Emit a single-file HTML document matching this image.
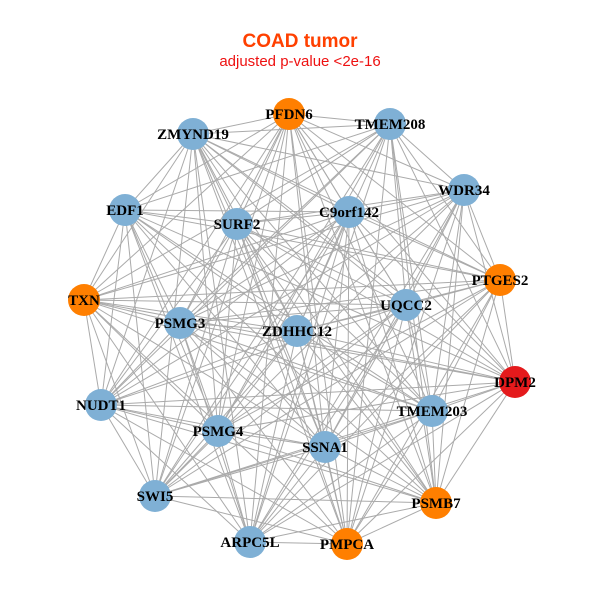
<!DOCTYPE html>
<html><head><meta charset="utf-8"><style>
html,body{margin:0;padding:0;background:#fff;}
svg{display:block;}
</style></head><body>
<svg id="g" width="600" height="600" xmlns="http://www.w3.org/2000/svg">
<rect width="600" height="600" fill="#fff"/>
<text x="300" y="47" text-anchor="middle" font-family="Liberation Sans, sans-serif" font-weight="bold" font-size="19" fill="#ff4000">COAD tumor</text>
<text x="300" y="66" text-anchor="middle" font-family="Liberation Sans, sans-serif" font-size="15" fill="#ee1111">adjusted p-value &lt;2e-16</text>
<g id="edges" stroke="#aaaaaa" stroke-width="1"></g>
<g id="nodes"></g>
</svg>
<script>
var N=[
["PFDN6",289,114,"#ff7f00"],["TMEM208",390,124,"#7fb0d5"],["ZMYND19",193,134,"#7fb0d5"],
["WDR34",464,190,"#7fb0d5"],["EDF1",125,210,"#7fb0d5"],["C9orf142",349,212,"#7fb0d5"],
["SURF2",237,224,"#7fb0d5"],["PTGES2",500,280,"#ff7f00"],["TXN",84,300,"#ff7f00"],
["UQCC2",406,305,"#7fb0d5"],["PSMG3",180,323,"#7fb0d5"],["ZDHHC12",297,331,"#7fb0d5"],
["DPM2",515,382,"#e41a1c"],["NUDT1",101,405,"#7fb0d5"],["TMEM203",432,411,"#7fb0d5"],
["PSMG4",218,431,"#7fb0d5"],["SSNA1",325,447,"#7fb0d5"],["SWI5",155,496,"#7fb0d5"],
["PSMB7",436,503,"#ff7f00"],["ARPC5L",250,542,"#7fb0d5"],["PMPCA",347,544,"#ff7f00"]];
var ns="http://www.w3.org/2000/svg",E=document.getElementById("edges"),G=document.getElementById("nodes");
for(var i=0;i<N.length;i++)for(var j=i+1;j<N.length;j++){
 if((i*7+j*3)%11==0)continue;
 var l=document.createElementNS(ns,"line");
 l.setAttribute("x1",N[i][1]);l.setAttribute("y1",N[i][2]);l.setAttribute("x2",N[j][1]);l.setAttribute("y2",N[j][2]);E.appendChild(l);}
N.forEach(function(n){
 var c=document.createElementNS(ns,"circle");c.setAttribute("cx",n[1]);c.setAttribute("cy",n[2]);c.setAttribute("r",16);c.setAttribute("fill",n[3]);G.appendChild(c);});
N.forEach(function(n){
 var t=document.createElementNS(ns,"text");t.setAttribute("x",n[1]);t.setAttribute("y",n[2]+5);t.setAttribute("text-anchor","middle");
 t.setAttribute("font-family","Liberation Serif, serif");t.setAttribute("font-weight","bold");t.setAttribute("font-size","15");t.textContent=n[0];G.appendChild(t);});
</script>
</body></html>
